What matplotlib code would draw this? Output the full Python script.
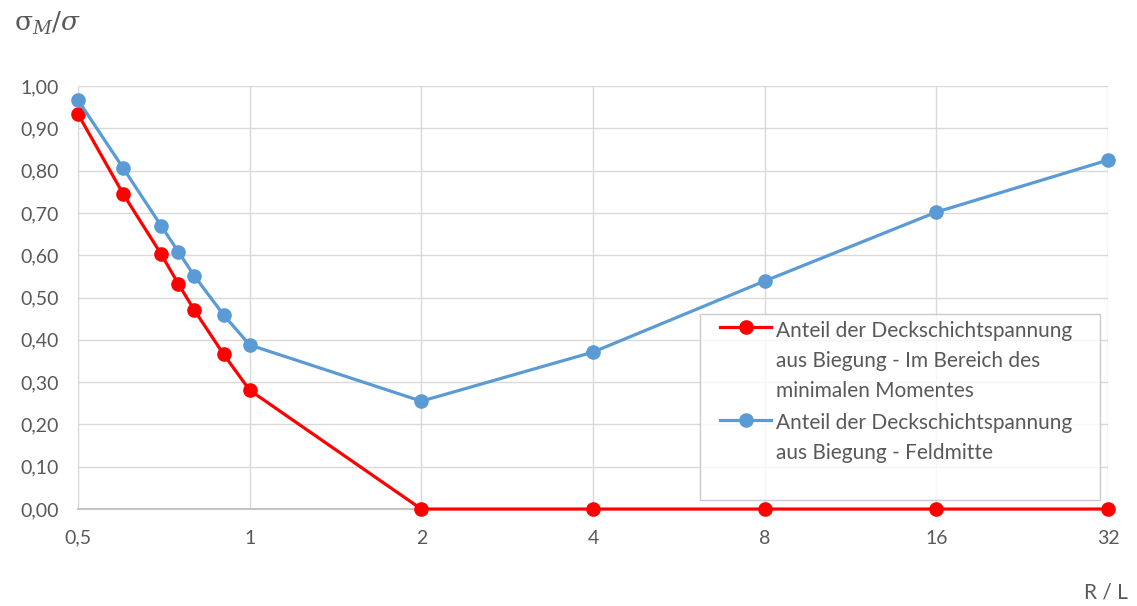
import matplotlib.pyplot as plt
import numpy as np
from matplotlib.legend_handler import HandlerLine2D

plt.rcParams['font.family'] = ['Lato', 'DejaVu Sans']
plt.rcParams['mathtext.fontset'] = 'dejavuserif'

# R / L values
x = [0.5, 0.6, 0.7, 0.75, 0.8, 0.9, 1, 2, 4, 8, 16, 32]
# minimal moment region
red_y = [0.934, 0.745, 0.602, 0.532, 0.470, 0.366, 0.281, 0, 0, 0, 0, 0]
# midspan
blue_y = [0.967, 0.806, 0.669, 0.608, 0.551, 0.459, 0.388, 0.255, 0.371, 0.539, 0.702, 0.825]

xticks = [0.5, 1, 2, 4, 8, 16, 32]
xlabels = ['0,5', '1', '2', '4', '8', '16', '32']
yticks = np.arange(0, 1.01, 0.1)

label_red = 'Anteil der Deckschichtspannung\naus Biegung - Im Bereich des\nminimalen Momentes'
label_blue = 'Anteil der Deckschichtspannung\naus Biegung - Feldmitte\n'

fs_leg = 15
spacing = 1.62


# puts the legend handle next to the first line of a multi line label
class TopHandler(HandlerLine2D):
    def __init__(self, shift, dx=10, **kw):
        super().__init__(**kw)
        self.shift = shift
        self.dx = dx

    def create_artists(self, legend, orig_handle, xdescent, ydescent, width, height, fontsize, trans):
        return super().create_artists(legend, orig_handle, xdescent - self.dx, ydescent - 2 * self.shift,
                                      width - self.dx, height, fontsize, trans)


fig = plt.figure(figsize=(11.37, 6.06), dpi=100)
ax = fig.add_axes([0.0686, 0.160, 0.9059, 0.698])

l1, = ax.plot(x, red_y, '-o', color='#FF0000', lw=2.3, ms=9.5, label=label_red, zorder=3, clip_on=False)
l2, = ax.plot(x, blue_y, '-o', color='#5B9BD5', lw=2.3, ms=9.5, label=label_blue, zorder=3, clip_on=False)

ax.set_xscale('log', base=2)
ax.set_xlim(0.5, 32)
ax.set_ylim(0, 1)
ax.set_xticks(xticks)
ax.set_xticklabels(xlabels)
ax.minorticks_off()
ax.set_yticks(yticks)
ax.set_yticklabels([('%.2f' % v).replace('.', ',') for v in yticks])

ax.grid(True, color='#D9D9D9', lw=1)
ax.set_axisbelow(True)
for s in ['top', 'right']:
    ax.spines[s].set_visible(False)
ax.spines['left'].set_color('#D9D9D9')
ax.spines['bottom'].set_color('#BFBFBF')
ax.spines['bottom'].set_linewidth(1.3)
ax.tick_params(length=0, labelsize=14, colors='#595959')
ax.tick_params(axis='x', pad=15)
ax.tick_params(axis='y', pad=14)

leg = ax.legend(handles=[l1, l2], loc='upper left', mode='expand',
                bbox_to_anchor=(0.604, 0.03, 0.388, 0.43), fontsize=fs_leg,
                frameon=True, fancybox=False, edgecolor='#BFBFBF',
                handlelength=3.1, handletextpad=0.25, borderpad=0.3, labelspacing=0.62,
                borderaxespad=0,
                handler_map={l1: TopHandler(24.4), l2: TopHandler(24.4)})
for t in leg.get_texts():
    t.set_color('#595959')
    t.set_linespacing(spacing)
leg.get_frame().set_linewidth(1)

fig.text(0.012, 0.962, r'$\mathrm{\sigma}_M/\sigma$', fontsize=19, color='#595959', va='center')
fig.text(0.953, 0.022, 'R / L', fontsize=15, color='#595959', va='center')

plt.savefig('out.png', dpi=100)
